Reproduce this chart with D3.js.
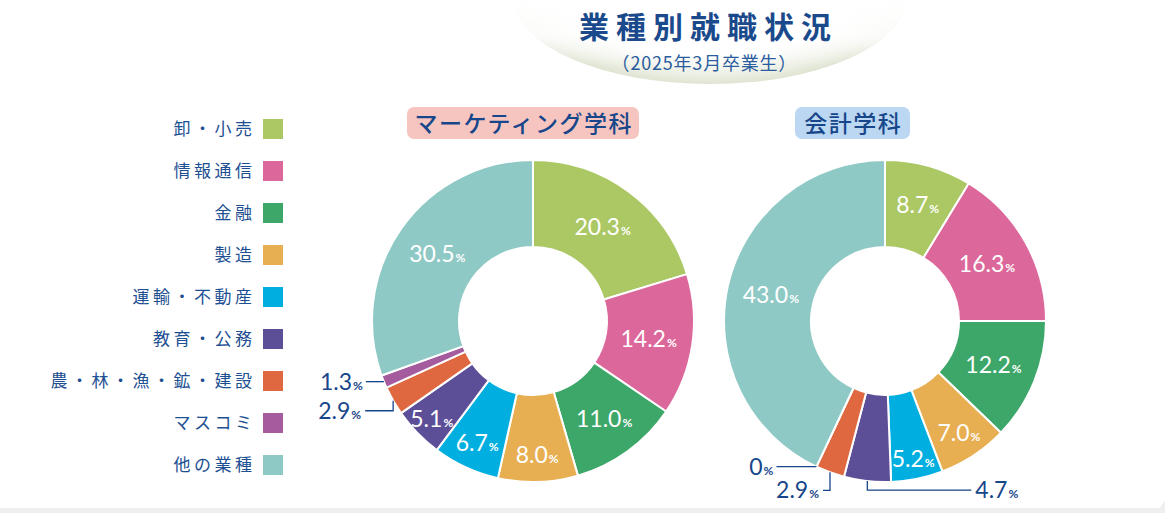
<!DOCTYPE html>
<html><head><meta charset="utf-8">
<script src="https://cdn.jsdelivr.net/npm/d3@7/dist/d3.min.js"></script>
<style>
html,body{margin:0;padding:0;background:#fff;}
svg{display:block;}
</style></head>
<body>
<svg id="chart" width="1165" height="513"></svg>
<script>
// ---------- data ----------
const categories = ["卸・小売","情報通信","金融","製造","運輸・不動産","教育・公務","農・林・漁・鉱・建設","マスコミ","他の業種"];
const colors = ["#abc864","#dc679a","#3ca769","#e8ae52","#00afe0","#5d4f97","#e06840","#a45c9e","#8fc9c6"];
const marketingValues = [20.3,14.2,11.0,8.0,6.7,5.1,2.9,1.3,30.5];
const accountingValues = [8.7,16.3,12.2,7.0,5.2,4.7,2.9,0,43.0];
const marketingLabels = ["20.3","14.2","11.0","8.0","6.7","5.1","2.9","1.3","30.5"];
const accountingLabels = ["8.7","16.3","12.2","7.0","5.2","4.7","2.9","0","43.0"];
const titleText = "業種別就職状況";
const subtitleText = "（2025年3月卒業生）";
const deptNames = ["マーケティング学科","会計学科"];

// ---------- drawing ----------
const svg = d3.select("#chart");
const navy = "#17468a";
const numFont = "Lato, 'Open Sans', sans-serif";
const jpFont = "'Noto Sans CJK JP', 'Noto Sans', sans-serif";

const defs = svg.append("defs");
const rg = defs.append("radialGradient").attr("id","glow")
  .attr("cx","50%").attr("cy","50%").attr("r","50%");
rg.append("stop").attr("offset","0").attr("stop-color","#ffffff");
rg.append("stop").attr("offset","0.68").attr("stop-color","#ffffff");
rg.append("stop").attr("offset","0.9").attr("stop-color","#ecefe3");
rg.append("stop").attr("offset","1").attr("stop-color","#dfe4d2");
const lg = defs.append("linearGradient").attr("id","fadeTop").attr("x1",0).attr("y1",0).attr("x2",0).attr("y2",1);
lg.append("stop").attr("offset","0").attr("stop-color","#fff").attr("stop-opacity",1);
lg.append("stop").attr("offset","0.45").attr("stop-color","#fff").attr("stop-opacity",0.85);
lg.append("stop").attr("offset","0.78").attr("stop-color","#fff").attr("stop-opacity",0);

// title glow
svg.append("ellipse").attr("cx",710).attr("cy",-2).attr("rx",196).attr("ry",86).attr("fill","url(#glow)");
svg.append("rect").attr("x",505).attr("y",-2).attr("width",410).attr("height",86).attr("fill","url(#fadeTop)");

// bottom band
svg.append("path").attr("d","M0,508 L1159,508 L1165,501 L1165,513 L0,513 Z").attr("fill","#efefef");

// title
const tSp = 7;
svg.append("text").attr("x",705 + tSp/2).attr("y",38).attr("text-anchor","middle")
  .attr("font-family",jpFont).attr("font-weight",700).attr("font-size",30)
  .attr("letter-spacing",tSp).attr("fill","#1b4a8c").text(titleText);
svg.append("text").attr("x",704 + 0.4).attr("y",70).attr("text-anchor","middle")
  .attr("font-family",jpFont).attr("font-weight",400).attr("font-size",18).attr("letter-spacing",0.8)
  .attr("fill","#2a5c9e").text(subtitleText);

// legend
const legY = d3.scalePoint().domain(categories).range([129,465]);
const lgG = svg.append("g");
const lSp = 3.5;
categories.forEach((c,i)=>{
  lgG.append("rect").attr("x",263).attr("y",legY(c)-10).attr("width",20).attr("height",20).attr("fill",colors[i]);
  lgG.append("text").attr("x",252 + lSp).attr("y",legY(c)+6).attr("text-anchor","end")
    .attr("font-family",jpFont).attr("font-size",17).attr("letter-spacing",lSp)
    .attr("fill","#1d4f92").text(c);
});

// donuts
const outerR = 161, innerR = 74;
const pie = d3.pie().sort(null).value(d=>d);
const arc = d3.arc().innerRadius(innerR).outerRadius(outerR);

function labelR(v){ return v >= 12 ? 117 : v >= 8.5 ? 121 : v >= 6 ? 134 : 141; }

function addPctText(sel, num, size, pctSize){
  sel.append("tspan").attr("font-size",size).text(num);
  sel.append("tspan").attr("font-size",pctSize).attr("font-weight",700).attr("dx",1).text("%");
}

const charts = [
  {cx:533, cy:321, values:marketingValues, labels:marketingLabels, name:deptNames[0], pill:"#f6c5c0",
   pillX:407, pillW:232,
   outside:{
     7:{type:"h", len:18},
     6:{type:"elbowLeft", drop:10, len:28}
   }},
  {cx:885, cy:321, values:accountingValues, labels:accountingLabels, name:deptNames[1], pill:"#bcd7f1",
   pillX:795, pillW:115,
   outside:{
     7:{type:"h", len:40},
     6:{type:"elbowLeft", drop:18, len:7},
     5:{type:"elbowRight", drop:9, len:104}
   }}
];

charts.forEach(ch=>{
  // pill
  svg.append("rect").attr("x",ch.pillX).attr("y",107).attr("width",ch.pillW).attr("height",32)
    .attr("rx",7).attr("fill",ch.pill);
  svg.append("text").attr("x",ch.pillX + ch.pillW/2 + 0.75).attr("y",132).attr("text-anchor","middle")
    .attr("font-family",jpFont).attr("font-weight",500).attr("font-size",23).attr("letter-spacing",1.5)
    .attr("fill",navy).text(ch.name);

  const g = svg.append("g").attr("transform",`translate(${ch.cx},${ch.cy})`);
  const arcs = pie(ch.values);
  g.selectAll("path.slice").data(arcs).enter().append("path").attr("class","slice")
    .attr("d",arc).attr("fill",(d,i)=>colors[i])
    .attr("stroke","#fff").attr("stroke-width",2).attr("stroke-linejoin","round");

  arcs.forEach((d,i)=>{
    const mid = (d.startAngle + d.endAngle)/2;
    const spec = ch.outside[i];
    if(!spec){
      const r = labelR(d.data);
      const x = r*Math.sin(mid), y = -r*Math.cos(mid);
      const t = g.append("text").attr("x",x).attr("y",y+8).attr("text-anchor","middle")
        .attr("font-family",numFont).attr("fill","#fff");
      addPctText(t, ch.labels[i], 23, 12);
    } else {
      const px = outerR*Math.sin(mid), py = -outerR*Math.cos(mid);
      let pts, lx, ly, anchor;
      if(spec.type==="h"){
        pts = [[px,py],[px-spec.len,py]];
        lx = px-spec.len-3; ly = py; anchor="end";
      } else if(spec.type==="elbowLeft"){
        pts = [[px,py],[px,py+spec.drop],[px-spec.len,py+spec.drop]];
        lx = px-spec.len-4; ly = py+spec.drop; anchor="end";
      } else {
        pts = [[px,py],[px,py+spec.drop],[px+spec.len,py+spec.drop]];
        lx = px+spec.len+4; ly = py+spec.drop; anchor="start";
      }
      g.append("path").attr("d",d3.line()(pts)).attr("fill","none")
        .attr("stroke",navy).attr("stroke-width",1.3);
      const t = g.append("text").attr("x",lx).attr("y",ly+8).attr("text-anchor",anchor)
        .attr("font-family",numFont).attr("fill",navy);
      addPctText(t, ch.labels[i], 23, 12);
    }
  });
});
</script>
</body></html>
